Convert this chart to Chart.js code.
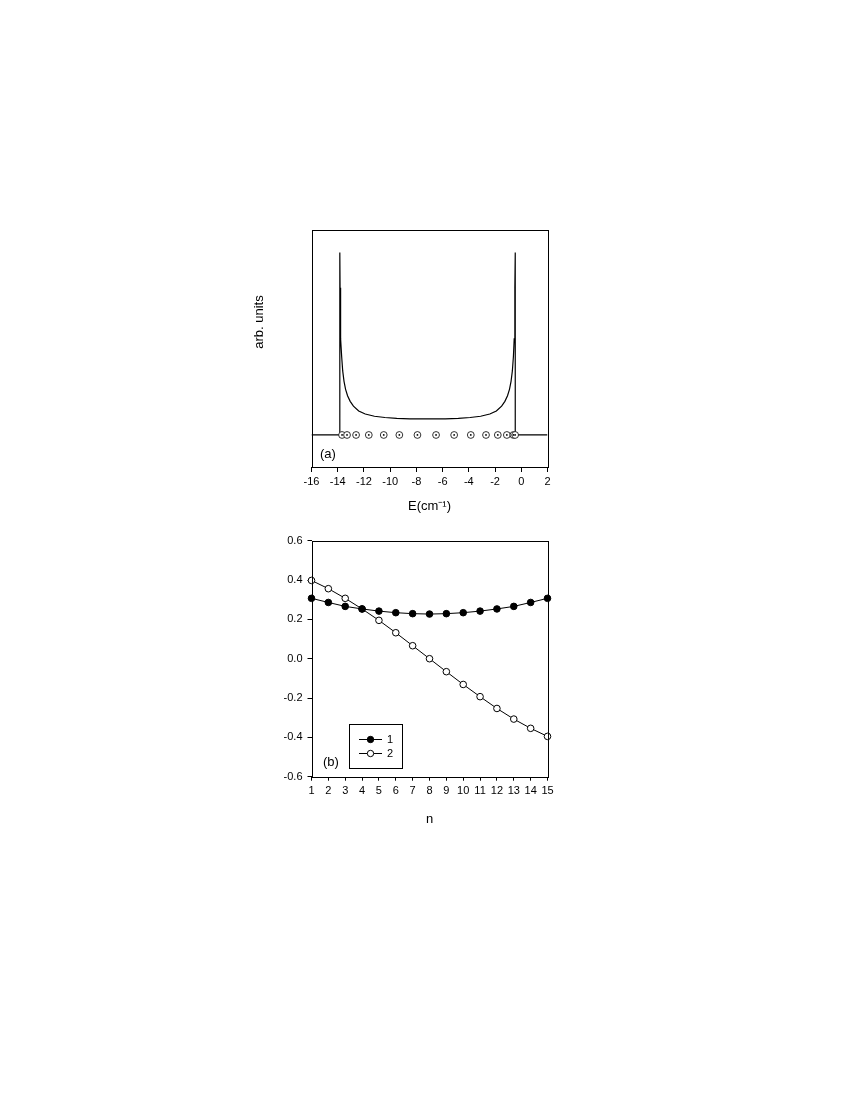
<!DOCTYPE html>
<html>
<head>
<meta charset="utf-8">
<script src="https://cdn.jsdelivr.net/npm/chart.js@4.4.0/dist/chart.umd.min.js"></script>
<style>
  body { margin: 0; background: #fff; }
  canvas { position: absolute; }
  #chartA { left: 230px; top: 215px; }
  #chartB { left: 230px; top: 525px; }
</style>
</head>
<body>
<canvas id="chartA" width="350" height="310"></canvas>
<canvas id="chartB" width="350" height="315"></canvas>
<script>
// (a) density of states, arb. units (baseline 0, flat middle ~1)
var energies = [-16, -13.84, -13.84, -13.82, -13.80, -13.76, -13.70, -13.62, -13.52, -13.40, -13.25, -13.05, -12.8, -12.4, -11.9, -11.2, -10.4, -9.5, -8.5, -7.15,
                -5.8, -4.8, -3.9, -3.1, -2.4, -1.9, -1.5, -1.25, -1.05, -0.9, -0.78, -0.68, -0.60, -0.54, -0.50, -0.48, -0.46, -0.46, 2];
var density  = [0, 0, 11.4, 9.2, 7.6, 6.0, 4.9, 4.0, 3.35, 2.85, 2.45, 2.1, 1.8, 1.5, 1.31, 1.17, 1.09, 1.04, 1.01, 1.0,
                1.01, 1.04, 1.09, 1.17, 1.31, 1.5, 1.8, 2.1, 2.45, 2.85, 3.35, 4.0, 4.9, 6.0, 7.6, 9.2, 11.4, 0, 0];
// eigenvalues marked on the baseline
var eigenvalues = [-13.67, -13.29, -12.60, -11.63, -10.49, -9.30, -7.92, -6.50, -5.12, -3.85, -2.69, -1.79, -1.10, -0.60, -0.47];

// (b) coefficients vs site n
var sites = [1, 2, 3, 4, 5, 6, 7, 8, 9, 10, 11, 12, 13, 14, 15];
var series1 = [0.307, 0.286, 0.266, 0.253, 0.242, 0.234, 0.229, 0.227, 0.229, 0.234, 0.242, 0.253, 0.266, 0.286, 0.307];
var series2 = [0.398, 0.356, 0.307, 0.253, 0.195, 0.132, 0.066, 0.0, -0.066, -0.131, -0.193, -0.253, -0.307, -0.354, -0.395];
var seriesNames = ['1', '2'];

Chart.defaults.font.family = "'Liberation Sans', Arial, sans-serif";
Chart.defaults.font.size = 11;
Chart.defaults.color = '#000';

function pts(xs, ys) {
  return xs.map(function (x, i) { return { x: x, y: ys[i] }; });
}

var frame = {
  id: 'frame',
  afterDraw: function (chart) {
    var a = chart.chartArea, c = chart.ctx;
    c.save();
    c.strokeStyle = '#000';
    c.lineWidth = 1;
    c.strokeRect(Math.round(a.left) + 0.5, Math.round(a.top) + 0.5, Math.round(a.right - a.left), Math.round(a.bottom - a.top));
    c.restore();
  }
};

var labelsA = {
  id: 'labelsA',
  afterDraw: function (chart) {
    var c = chart.ctx;
    c.save();
    c.fillStyle = '#000';
    c.font = "13px 'Liberation Sans', Arial, sans-serif";
    c.textBaseline = 'middle';
    c.textAlign = 'left';
    c.fillText('(a)', 90, 239);
    c.translate(29, 107);
    c.rotate(-Math.PI / 2);
    c.textAlign = 'center';
    c.fillText('arb. units', 0, 0);
    c.restore();
  }
};

var labelsB = {
  id: 'labelsB',
  afterDraw: function (chart) {
    var c = chart.ctx;
    c.save();
    c.fillStyle = '#000';
    c.strokeStyle = '#000';
    c.font = "13px 'Liberation Sans', Arial, sans-serif";
    c.textBaseline = 'middle';
    c.textAlign = 'left';
    c.fillText('(b)', 93, 237);
    // legend box
    c.lineWidth = 1;
    c.strokeRect(119.5, 199.5, 53, 44);
    c.font = "11px 'Liberation Sans', Arial, sans-serif";
    var rows = [214, 228];
    for (var i = 0; i < 2; i++) {
      var y = rows[i] + 0.5;
      c.beginPath();
      c.moveTo(129, y);
      c.lineTo(152, y);
      c.stroke();
      c.beginPath();
      c.arc(140.5, y, 3.2, 0, Math.PI * 2);
      c.fillStyle = i === 0 ? '#000' : '#fff';
      c.fill();
      c.stroke();
      c.fillStyle = '#000';
      c.fillText(seriesNames[i], 157, y);
    }
    c.restore();
  }
};

new Chart(document.getElementById('chartA').getContext('2d'), {
  type: 'scatter',
  data: {
    datasets: [
      { data: pts(eigenvalues, eigenvalues.map(function () { return 0; })), pointRadius: 0.9, pointBackgroundColor: '#000', pointBorderWidth: 0, showLine: false, clip: false },
      { data: pts(eigenvalues, eigenvalues.map(function () { return 0; })), pointRadius: 3.4, pointBackgroundColor: '#fff', pointBorderColor: '#000', pointBorderWidth: 0.8, showLine: false, clip: false },
      { data: pts(energies, density), showLine: true, borderColor: '#000', borderWidth: 1.2, pointRadius: 0, tension: 0 }
    ]
  },
  options: {
    responsive: false,
    animation: false,
    events: [],
    layout: { padding: { left: 0, top: 15, right: 32.5, bottom: 0 } },
    plugins: { legend: { display: false }, tooltip: { enabled: false } },
    scales: {
      x: {
        type: 'linear', min: -16, max: 2,
        ticks: { stepSize: 2, padding: 3, maxRotation: 0, autoSkip: false, font: { size: 11 } },
        grid: { display: true, drawOnChartArea: false, drawTicks: true, tickLength: 5, color: '#000' },
        border: { display: false },
        title: { display: true, text: 'E(cm\u207B\u00B9)', font: { size: 13 }, padding: { top: 4, bottom: 11 } },
        afterFit: function (s) { s.height = 58; }
      },
      y: {
        min: -2, max: 12.8,
        ticks: { display: false },
        grid: { display: false },
        border: { display: false },
        afterFit: function (s) { s.width = 81.5; }
      }
    }
  },
  plugins: [frame, labelsA]
});

new Chart(document.getElementById('chartB').getContext('2d'), {
  type: 'scatter',
  data: {
    datasets: [
      { label: seriesNames[0], data: pts(sites, series1), showLine: true, borderColor: '#000', borderWidth: 1, pointRadius: 3.3, pointBackgroundColor: '#000', pointBorderColor: '#000', pointBorderWidth: 1, clip: false },
      { label: seriesNames[1], data: pts(sites, series2), showLine: true, borderColor: '#000', borderWidth: 1, pointRadius: 3.3, pointBackgroundColor: '#fff', pointBorderColor: '#000', pointBorderWidth: 1, clip: false }
    ]
  },
  options: {
    responsive: false,
    animation: false,
    events: [],
    layout: { padding: { left: 0, top: 15.7, right: 32.5, bottom: 5.3 } },
    plugins: { legend: { display: false }, tooltip: { enabled: false } },
    scales: {
      x: {
        type: 'linear', min: 1, max: 15,
        ticks: { stepSize: 1, padding: 4, maxRotation: 0, minRotation: 0, autoSkip: false, font: { size: 11 } },
        grid: { display: true, drawOnChartArea: false, drawTicks: true, tickLength: 4, color: '#000' },
        border: { display: false },
        title: { display: true, text: 'n', font: { size: 13 }, padding: { top: 4, bottom: 7 } },
        afterFit: function (s) { s.height = 58; }
      },
      y: {
        min: -0.6, max: 0.6,
        ticks: { stepSize: 0.2, padding: 5, font: { size: 11 },
          callback: function (v) { return (Math.abs(v) < 1e-9 ? 0 : v).toFixed(1); } },
        grid: { display: true, drawOnChartArea: false, drawTicks: true, tickLength: 4, color: '#000' },
        border: { display: false },
        afterFit: function (s) { s.width = 81.5; }
      }
    }
  },
  plugins: [frame, labelsB]
});
</script>
</body>
</html>
